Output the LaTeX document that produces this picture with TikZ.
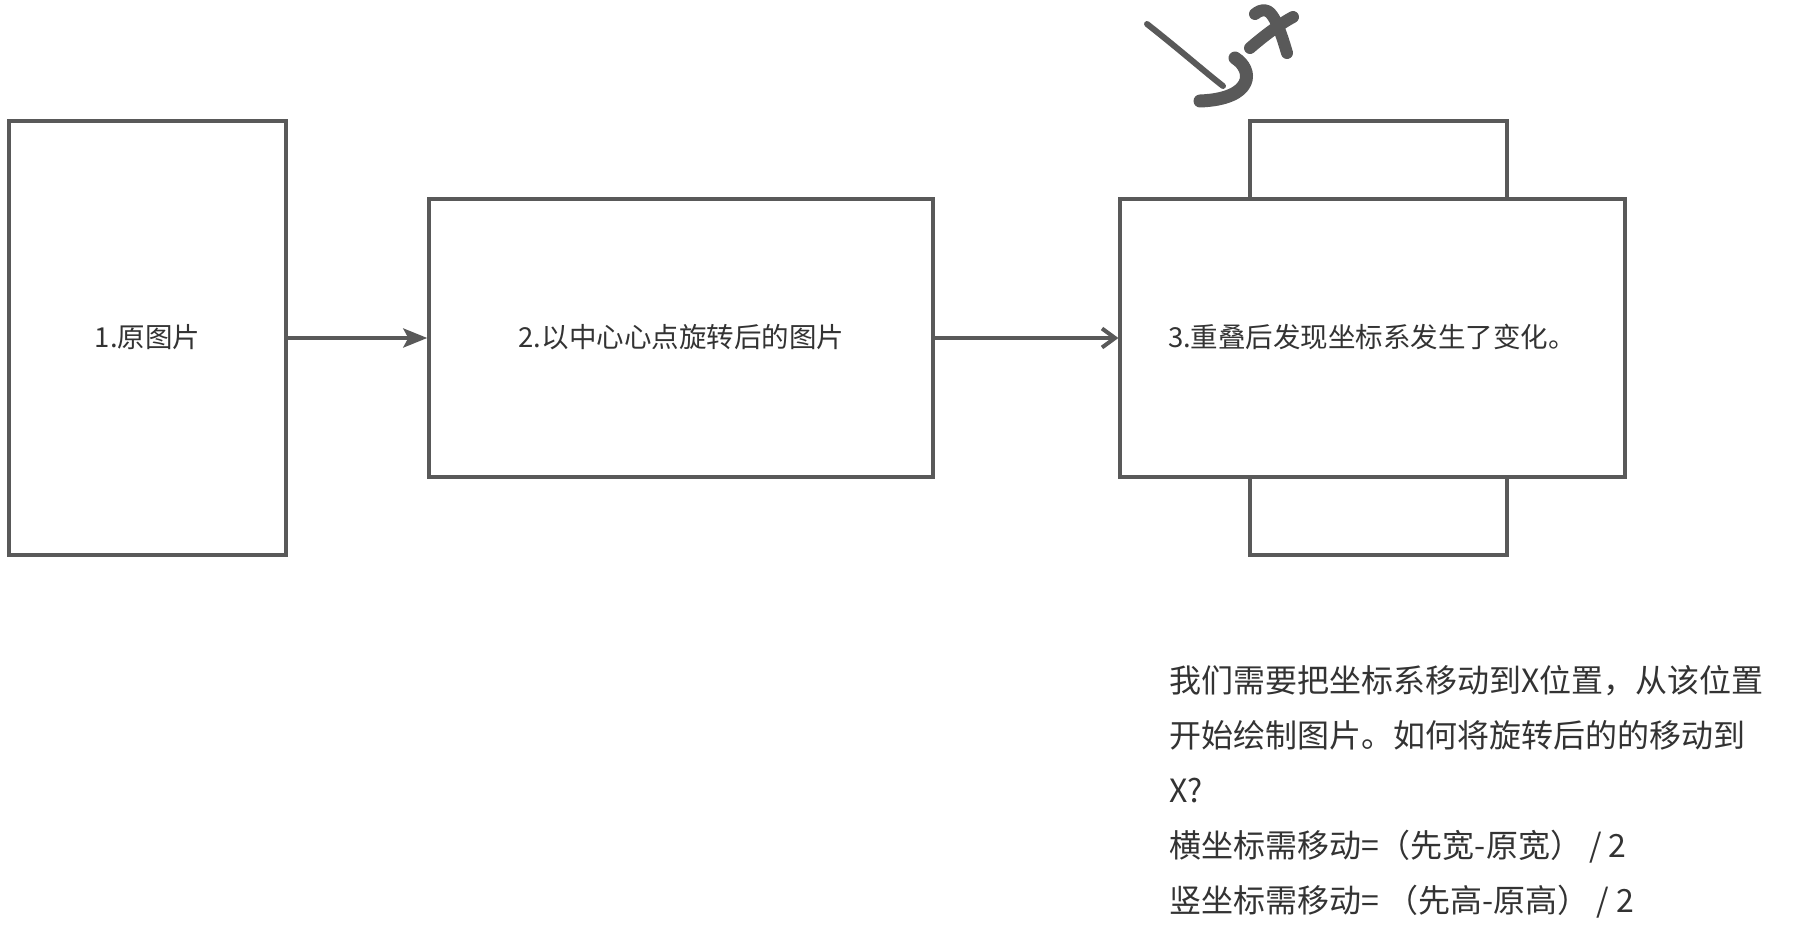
\documentclass[tikz,border=0pt]{standalone}
\usepackage{fontspec}
\setmainfont{Noto Sans CJK SC}
\usetikzlibrary{arrows.meta}
\definecolor{linegray}{HTML}{595959}
\definecolor{textgray}{HTML}{333333}
\tikzset{
  boxnode/.style={draw=linegray, line width=4pt, fill=white, rectangle, inner sep=0pt},
  boxlabel/.style={text=textgray, font=\fontsize{27.5}{33}\selectfont, anchor=base, inner sep=0pt},
  notelabel/.style={text=textgray, font=\fontsize{32}{38}\selectfont, anchor=base west, inner sep=0pt},
  conn/.style={draw=linegray, line width=4pt},
  pen/.style={draw=linegray, line cap=round, line join=round}
}
\begin{document}
\begin{tikzpicture}[x=1pt,y=-1pt]
\useasboundingbox (0,0) rectangle (1806,933);
% boxes
\node[boxnode, minimum width=277pt, minimum height=434pt] (b1) at (147.5,338) {};
\node[boxnode, minimum width=504pt, minimum height=277pt] (b2) at (681.3,338) {};
\node[boxnode, minimum width=257pt, minimum height=434pt] (bk) at (1378.6,338) {};
\node[boxnode, minimum width=505pt, minimum height=277pt] (b3) at (1372.9,338) {};
% labels
\node[boxlabel] (t1) at (147.5,347) {1.原图片};
\node[boxlabel] (t2) at (681.3,347) {2.以中心心点旋转后的图片};
\node[boxlabel] (t3) at (1372,347) {3.重叠后发现坐标系发生了变化。};
% connectors
\draw[conn, -{Stealth[length=24pt,width=19pt,inset=5pt]}] (b1.east) -- (b2.west);
\draw[conn, -{Straight Barb[length=13pt,width=19pt]}] (b2.east) -- (b3.west);
% handwritten X mark
\draw[pen, line width=6pt] (1147,24) .. controls (1180,50) and (1205,72) .. (1223,86);
\draw[pen, line width=13pt] (1235,58) .. controls (1254,70) and (1254,99) .. (1200,101);
\draw[pen, line width=12pt] (1255,14) .. controls (1268,4) and (1275,12) .. (1287,53);
\draw[pen, line width=12pt] (1250,48) .. controls (1265,35) and (1280,24) .. (1293,17);
% note text
\node[notelabel] (n1) at (1169,692.7) {我们需要把坐标系移动到X位置，从该位置};
\node[notelabel] (n2) at (1169,747.7) {开始绘制图片。如何将旋转后的的移动到};
\node[notelabel] (n3) at (1169,802.7) {X?};
\node[notelabel] (n4) at (1169,857.7) {横坐标需移动=（先宽-原宽） / 2};
\node[notelabel] (n5) at (1169,912.7) {竖坐标需移动= （先高-原高） / 2};
\end{tikzpicture}
\end{document}
